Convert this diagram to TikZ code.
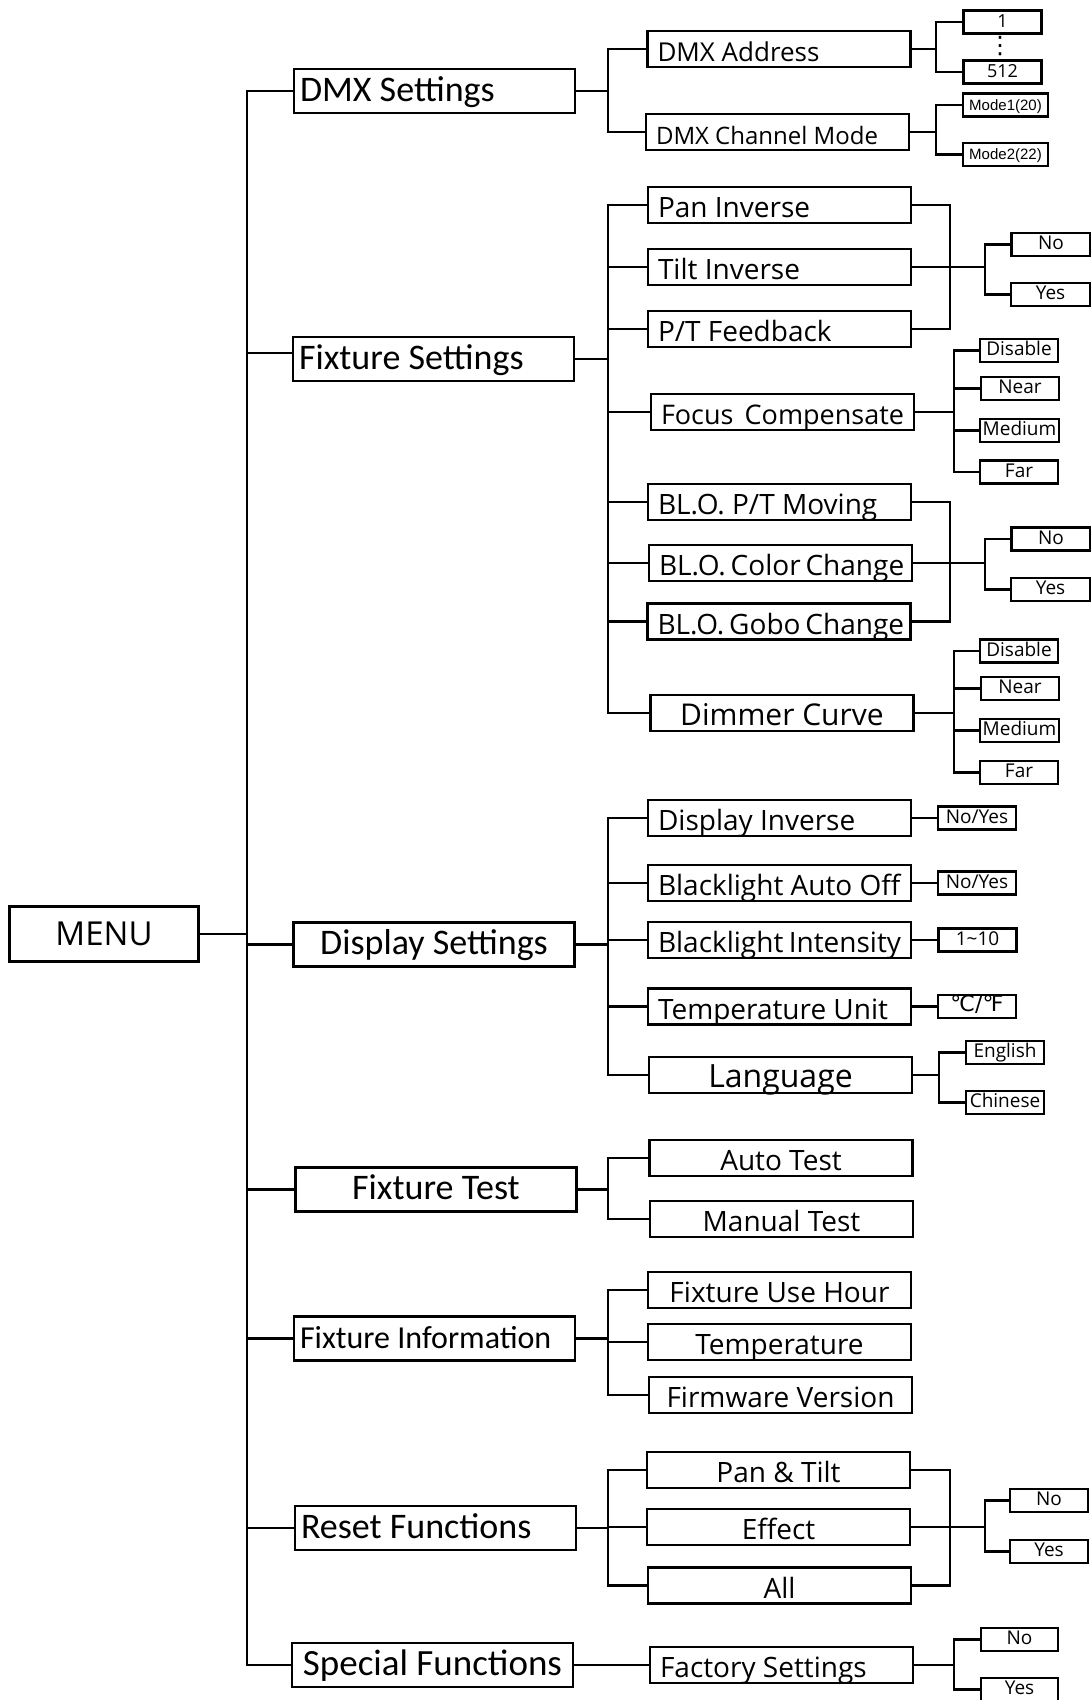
\documentclass[tikz,border=0pt]{standalone}
\usepackage{fontspec}
\setmainfont{Open Sans}
\newfontfamily\calfont{Carlito}
\newfontfamily\arialfont{Liberation Sans}
\newfontfamily\symfont{DejaVu Sans}
\usepackage{tikz}

\tikzset{
  box/.style={draw, line width=2.2pt, inner ysep=0pt},
  menubox/.style={box, minimum width=189pt, minimum height=55pt, text height=22pt, text depth=0pt, font=\fontsize{33}{33}\selectfont},
  topbox/.style={box, minimum width=281pt, minimum height=44pt, inner xsep=6pt, text height=20pt, text depth=0pt, font=\calfont\fontsize{36}{36}\selectfont},
  subbox/.style={box, minimum width=263pt, minimum height=36pt, inner xsep=10pt, text height=25pt, text depth=0pt, font=\fontsize{28}{28}\selectfont},
  optbox/.style={box, minimum width=78pt, minimum height=23pt, inner xsep=0pt, text height=10pt, text depth=0pt, font=\fontsize{19}{19}\selectfont},
  leftin/.style={execute at begin node={\hbox to #1\bgroup}, execute at end node={\hfil\egroup}},
  link/.style={line width=2.2pt, line cap=rect}
}

\begin{document}
\begin{tikzpicture}[x=1pt, y=-1pt]
\useasboundingbox (0,0) rectangle (1091,1700);

\node[menubox] (menu) at (104,934) {MENU};

\node[topbox, leftin=269pt] (dmxset) at (434.5,91) {DMX Settings};
\node[topbox, leftin=269pt] (fixset) at (433.5,359) {Fixture Settings};
\node[topbox] (dispset) at (434,944.5) {Display Settings};
\node[topbox] (fixtest) at (436,1189.5) {Fixture Test};
\node[topbox, leftin=269pt, font=\calfont\fontsize{32}{32}\selectfont] (fixinfo) at (434.5,1338.5) {Fixture Information};
\node[topbox, leftin=269pt] (reset) at (435.5,1528) {Reset Functions};
\node[topbox, font=\calfont\fontsize{37}{37}\selectfont] (special) at (432.5,1665) {Special Functions};

\node[subbox, leftin=243pt, font=\fontsize{26}{26}\selectfont] (dmxaddr) at (779,49) {DMX Address};
\node[subbox, leftin=243pt, font=\fontsize{24}{24}\selectfont] (dmxmode) at (777.5,132) {DMX Channel Mode};
\node[optbox, font=\fontsize{18}{18}\selectfont] (addr1) at (1002.5,22) {1};
\node[optbox, font=\fontsize{18}{18}\selectfont] (addr512) at (1002.5,72) {512};
\node[inner sep=0pt, font=\symfont\fontsize{24}{24}\selectfont] (dots) at (1000,46) {⋮};
\node[optbox, minimum width=85pt, font=\arialfont\fontsize{15}{15}\selectfont] (mode1) at (1005.5,105) {Mode1(20)};
\node[optbox, minimum width=85pt, font=\arialfont\fontsize{15}{15}\selectfont] (mode2) at (1005.5,154.5) {Mode2(22)};

\node[subbox, leftin=243pt] (paninv) at (779.5,205) {Pan Inverse};
\node[subbox, leftin=243pt] (tiltinv) at (779.5,267) {Tilt Inverse};
\node[subbox, leftin=243pt] (ptfb) at (779.5,329) {P/T Feedback};
\node[subbox, leftin=243pt, font=\fontsize{27}{27}\selectfont] (focus) at (782.5,412) {Focus~~Compensate};
\node[subbox, leftin=243pt] (blopt) at (779.5,502) {BL.O. P/T Moving};
\node[subbox, leftin=243pt] (blocol) at (780.5,563) {BL.O. Color Change};
\node[subbox, leftin=243pt] (blogobo) at (779,621.5) {BL.O. Gobo Change};
\node[subbox, font=\fontsize{30}{30}\selectfont] (dimmer) at (782,713) {Dimmer Curve};

\node[optbox, minimum width=79pt] (no1) at (1051,244.5) {No};
\node[optbox, minimum width=79pt] (yes1) at (1050.5,294.5) {Yes};
\node[optbox] (fdis) at (1019,350.5) {Disable};
\node[optbox] (fnear) at (1020,388.5) {Near};
\node[optbox, minimum width=79pt] (fmed) at (1019.5,430.5) {Medium};
\node[optbox] (ffar) at (1019,472) {Far};
\node[optbox, minimum width=79pt] (no2) at (1051,539) {No};
\node[optbox, minimum width=79pt] (yes2) at (1050.5,589.5) {Yes};
\node[optbox] (ddis) at (1019,651) {Disable};
\node[optbox] (dnear) at (1020,688.5) {Near};
\node[optbox, minimum width=79pt] (dmed) at (1019.5,730.5) {Medium};
\node[optbox] (dfar) at (1019,772.5) {Far};

\node[subbox, leftin=243pt] (dispinv) at (779.5,818) {Display Inverse};
\node[subbox, leftin=243pt] (blauto) at (779.5,883) {Blacklight Auto Off};
\node[subbox, leftin=243pt] (blint) at (779.5,940) {Blacklight Intensity};
\node[subbox, leftin=243pt] (tempunit) at (779.5,1006.5) {Temperature Unit};
\node[subbox, font=\fontsize{32}{32}\selectfont] (lang) at (780.5,1075) {Language};
\node[optbox] (invopt) at (977,818) {No/Yes};
\node[optbox] (autoopt) at (977,883) {No/Yes};
\node[optbox] (intopt) at (977.5,940) {1\textasciitilde10};
\node[optbox, font=\symfont\fontsize{22}{22}\selectfont] (tempopt) at (977,1006.5) {℃/℉};
\node[optbox] (english) at (1005,1052.5) {English};
\node[optbox] (chinese) at (1005,1102.5) {Chinese};

\node[subbox] (autotest) at (781,1158) {Auto Test};
\node[subbox] (manualtest) at (781.5,1219) {Manual Test};

\node[subbox] (usehour) at (779.5,1290) {Fixture Use Hour};
\node[subbox] (temperature) at (779.5,1342) {Temperature};
\node[subbox] (firmware) at (780.5,1395) {Firmware Version};

\node[subbox] (pantilt) at (778.5,1470) {Pan \& Tilt};
\node[subbox] (effect) at (778.5,1527) {Effect};
\node[subbox] (all) at (779.5,1585.5) {All};
\node[optbox] (rno) at (1049,1500.5) {No};
\node[optbox] (ryes) at (1049,1551.5) {Yes};

\node[subbox, leftin=243pt] (factory) at (781.5,1665) {Factory Settings};
\node[optbox, minimum width=77pt] (sno) at (1019.5,1639.5) {No};
\node[optbox, minimum width=77pt] (syes) at (1019.5,1689.5) {Yes};

\coordinate (spine) at (247,0);
\coordinate (sub) at (608,0);
\coordinate (addrbar) at (936,0);
\coordinate (bracket) at (950,0);
\coordinate (yesno) at (985,0);
\coordinate (choice) at (954,0);
\coordinate (langbar) at (939,0);

\draw[link] (dmxset.west -| spine) -- (special.west -| spine);
\draw[link] (menu.east) -- (menu.east -| spine);
\draw[link] (dmxset.west) -- (dmxset.west -| spine);
\draw[link] ([yshift=6pt]fixset.west) -- ([yshift=6pt]fixset.west -| spine);
\draw[link] (dispset.west) -- (dispset.west -| spine);
\draw[link] (fixtest.west) -- (fixtest.west -| spine);
\draw[link] (fixinfo.west) -- (fixinfo.west -| spine);
\draw[link] (reset.west) -- (reset.west -| spine);
\draw[link] (special.west) -- (special.west -| spine);

\draw[link] (dmxset.east) -- (dmxset.east -| sub);
\draw[link] (dmxaddr.west) -- (dmxaddr.west -| sub) -- (dmxmode.west -| sub) -- (dmxmode.west);
\draw[link] (dmxaddr.east) -- (dmxaddr.east -| addrbar);
\draw[link] (addr1.west) -- (addr1.west -| addrbar) -- (addr512.west -| addrbar) -- (addr512.west);
\draw[link] (dmxmode.east) -- (dmxmode.east -| addrbar);
\draw[link] (mode1.west) -- (mode1.west -| addrbar) -- (mode2.west -| addrbar) -- (mode2.west);

\draw[link] (fixset.east) -- (fixset.east -| sub);
\draw[link] (paninv.west) -- (paninv.west -| sub) -- (dimmer.west -| sub) -- (dimmer.west);
\draw[link] (tiltinv.west) -- (tiltinv.west -| sub);
\draw[link] (ptfb.west) -- (ptfb.west -| sub);
\draw[link] (focus.west) -- (focus.west -| sub);
\draw[link] (blopt.west) -- (blopt.west -| sub);
\draw[link] (blocol.west) -- (blocol.west -| sub);
\draw[link] (blogobo.west) -- (blogobo.west -| sub);
\draw[link] (paninv.east) -- (paninv.east -| bracket) -- (ptfb.east -| bracket) -- (ptfb.east);
\draw[link] (tiltinv.east) -- (tiltinv.east -| yesno);
\draw[link] (no1.west) -- (no1.west -| yesno) -- (yes1.west -| yesno) -- (yes1.west);
\draw[link] (focus.east) -- (focus.east -| choice);
\draw[link] (fdis.west) -- (fdis.west -| choice) -- (ffar.west -| choice) -- (ffar.west);
\draw[link] (fnear.west) -- (fnear.west -| choice);
\draw[link] (fmed.west) -- (fmed.west -| choice);
\draw[link] (blopt.east) -- (blopt.east -| bracket) -- (blogobo.east -| bracket) -- (blogobo.east);
\draw[link] (blocol.east) -- (blocol.east -| yesno);
\draw[link] (no2.west) -- (no2.west -| yesno) -- (yes2.west -| yesno) -- (yes2.west);
\draw[link] (dimmer.east) -- (dimmer.east -| choice);
\draw[link] (ddis.west) -- (ddis.west -| choice) -- (dfar.west -| choice) -- (dfar.west);
\draw[link] (dnear.west) -- (dnear.west -| choice);
\draw[link] (dmed.west) -- (dmed.west -| choice);

\draw[link] (dispset.east) -- (dispset.east -| sub);
\draw[link] (dispinv.west) -- (dispinv.west -| sub) -- (lang.west -| sub) -- (lang.west);
\draw[link] (blauto.west) -- (blauto.west -| sub);
\draw[link] (blint.west) -- (blint.west -| sub);
\draw[link] (tempunit.west) -- (tempunit.west -| sub);
\draw[link] (dispinv.east) -- (invopt.west);
\draw[link] (blauto.east) -- (autoopt.west);
\draw[link] (blint.east) -- (intopt.west);
\draw[link] (tempunit.east) -- (tempopt.west);
\draw[link] (lang.east) -- (lang.east -| langbar);
\draw[link] (english.west) -- (english.west -| langbar) -- (chinese.west -| langbar) -- (chinese.west);

\draw[link] (fixtest.east) -- (fixtest.east -| sub);
\draw[link] (autotest.west) -- (autotest.west -| sub) -- (manualtest.west -| sub) -- (manualtest.west);

\draw[link] (fixinfo.east) -- (fixinfo.east -| sub);
\draw[link] (usehour.west) -- (usehour.west -| sub) -- (firmware.west -| sub) -- (firmware.west);
\draw[link] (temperature.west) -- (temperature.west -| sub);

\draw[link] (reset.east) -- (reset.east -| sub);
\draw[link] (pantilt.west) -- (pantilt.west -| sub) -- (all.west -| sub) -- (all.west);
\draw[link] (effect.west) -- (effect.west -| sub);
\draw[link] (pantilt.east) -- (pantilt.east -| bracket) -- (all.east -| bracket) -- (all.east);
\draw[link] (effect.east) -- (effect.east -| yesno);
\draw[link] (rno.west) -- (rno.west -| yesno) -- (ryes.west -| yesno) -- (ryes.west);

\draw[link] (special.east) -- (factory.west);
\draw[link] (factory.east) -- (factory.east -| choice);
\draw[link] (sno.west) -- (sno.west -| choice) -- (syes.west -| choice) -- (syes.west);
\end{tikzpicture}
\end{document}
